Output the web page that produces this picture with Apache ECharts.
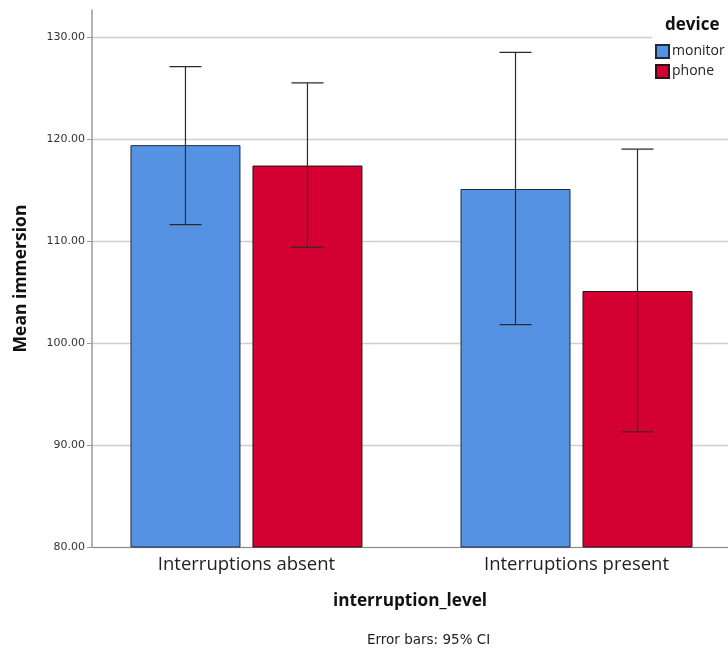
<!DOCTYPE html>
<html>
<head>
<meta charset="utf-8">
<script src="https://cdn.jsdelivr.net/npm/echarts@6/dist/echarts.min.js"></script>
<style>
  html, body { margin: 0; padding: 0; background: #fff; }
  #chart { width: 728px; height: 650px; }
</style>
</head>
<body>
<div id="chart"></div>
<script>
// Mean immersion by interruption level and device, with 95% CI error bars
const categories = ['Interruptions absent', 'Interruptions present'];
const devices = ['monitor', 'phone'];
const monitorMean = [119.4, 115.1];
const phoneMean = [117.4, 105.1];
const monitorLow = [111.6, 101.8];
const monitorHigh = [127.1, 128.5];
const phoneLow = [109.4, 91.3];
const phoneHigh = [125.5, 119.0];
const yTicks = [80, 90, 100, 110, 120, 130];

const colors = { monitor: '#5592e3', phone: '#d50032' };
const BAR_W = 110;
const BAR_GAP_PX = 12;
const DODGE = (BAR_W + BAR_GAP_PX) / 2;
const CAP = 32;

function barData(vals) {
  return vals.map((v, i) => [i, v]);
}
function errData(lo, hi) {
  return lo.map((l, i) => [i, l, hi[i]]);
}
function errorBarSeries(name, lo, hi, shift) {
  return {
    type: 'custom',
    name: name,
    z: 5,
    data: errData(lo, hi),
    encode: { x: 0, y: [1, 2] },
    renderItem: function (params, api) {
      const x = api.value(0);
      const top = api.coord([x, api.value(2)]);
      const bot = api.coord([x, api.value(1)]);
      const cx = top[0] + shift;
      const style = { stroke: '#2b2b2b', lineWidth: 1.2 };
      return {
        type: 'group',
        children: [
          { type: 'line', shape: { x1: cx, y1: top[1], x2: cx, y2: bot[1] }, style: style },
          { type: 'line', shape: { x1: cx - CAP / 2, y1: top[1], x2: cx + CAP / 2, y2: top[1] }, style: style },
          { type: 'line', shape: { x1: cx - CAP / 2, y1: bot[1], x2: cx + CAP / 2, y2: bot[1] }, style: style }
        ]
      };
    }
  };
}

const chart = echarts.init(document.getElementById('chart'), null, { renderer: 'canvas' });
chart.setOption({
  animation: false,
  backgroundColor: '#ffffff',
  grid: { left: 92, top: 10, right: 0, height: 537 },
  legend: {
    data: devices,
    orient: 'vertical',
    left: 655,
    top: 44,
    z: 6,
    icon: 'rect',
    itemWidth: 13,
    itemHeight: 13,
    itemGap: 5,
    padding: 0,
    textStyle: { fontFamily: 'Open Sans', fontSize: 14, color: '#222', padding: [0, 0, 0, -2] }
  },
  xAxis: {
    type: 'value',
    min: -0.468,
    max: 1.459,
    name: 'interruption_level',
    nameLocation: 'middle',
    nameGap: 46,
    nameTextStyle: { fontFamily: 'Open Sans', fontWeight: 'bold', fontSize: 17.2, color: '#111' },
    axisLine: { show: true, onZero: false, lineStyle: { color: '#8a8a8a', width: 1 } },
    axisTick: { show: false },
    splitLine: { show: false },
    axisLabel: {
      customValues: [0, 1],
      formatter: function (v) { return categories[Math.round(v)]; },
      fontFamily: 'Open Sans',
      fontSize: 18.5,
      color: '#222',
      margin: 8
    }
  },
  yAxis: {
    type: 'value',
    min: 80,
    max: 132.65,
    interval: 10,
    name: 'Mean immersion',
    nameLocation: 'middle',
    nameGap: 62,
    nameRotate: 90,
    nameTextStyle: { fontFamily: 'Open Sans', fontWeight: 'bold', fontSize: 17.5, color: '#111' },
    axisLine: { show: true, onZero: false, lineStyle: { color: '#9a9a9a', width: 1.5 } },
    axisTick: { show: true, length: 5, customValues: yTicks, lineStyle: { color: '#9a9a9a' } },
    splitLine: { show: true, lineStyle: { color: '#cfcfcf', width: 1.3 } },
    axisLabel: {
      customValues: yTicks,
      formatter: function (v) { return v.toFixed(2); },
      fontFamily: 'DejaVu Sans',
      fontSize: 11,
      color: '#333',
      margin: 7
    }
  },
  graphic: [
    { type: 'rect', left: 652, top: 12, z: 3, shape: { width: 80, height: 72 }, style: { fill: '#ffffff' } },
    { type: 'text', left: 665, top: 17, z: 7, style: { text: 'device', font: 'bold 17px "Open Sans"', fill: '#111' } },
    { type: 'text', left: 367, top: 633, z: 7, style: { text: 'Error bars: 95% CI', font: '13.5px "DejaVu Sans"', fill: '#222' } }
  ],
  series: [
    {
      type: 'bar', name: 'monitor', data: barData(monitorMean),
      barWidth: BAR_W, barGap: (BAR_GAP_PX / BAR_W * 100) + '%',
      itemStyle: { color: colors.monitor, borderColor: '#1e2a3a', borderWidth: 1 }
    },
    {
      type: 'bar', name: 'phone', data: barData(phoneMean),
      barWidth: BAR_W, barGap: (BAR_GAP_PX / BAR_W * 100) + '%',
      itemStyle: { color: colors.phone, borderColor: '#2a1418', borderWidth: 1 }
    },
    errorBarSeries('monitor CI', monitorLow, monitorHigh, -DODGE),
    errorBarSeries('phone CI', phoneLow, phoneHigh, DODGE)
  ]
});
</script>
</body>
</html>
